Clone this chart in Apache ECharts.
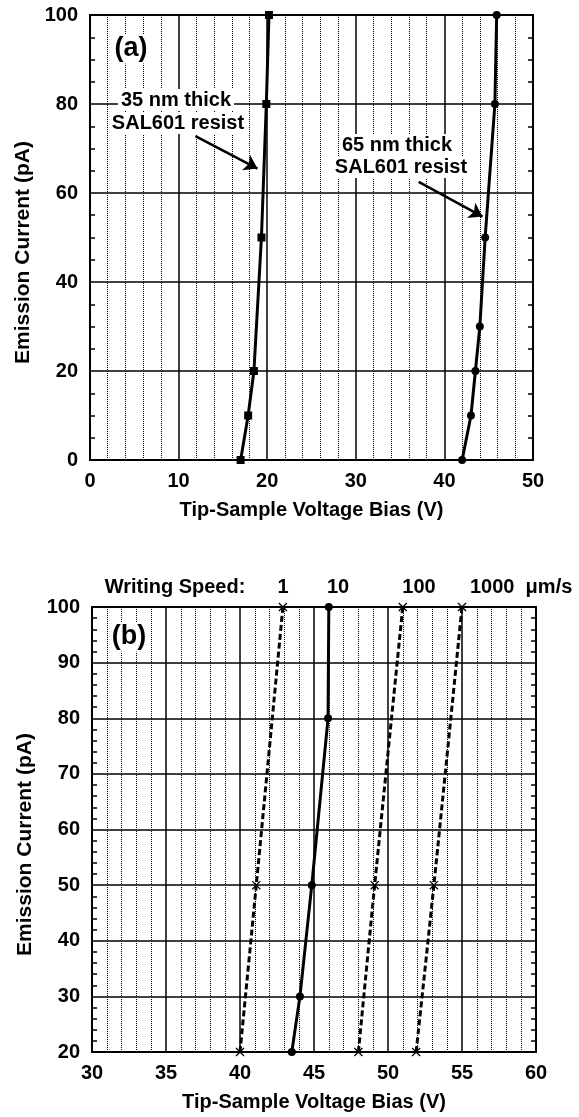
<!DOCTYPE html>
<html>
<head>
<meta charset="utf-8">
<script src="https://cdn.jsdelivr.net/npm/echarts@6/dist/echarts.min.js"></script>
<style>
  html, body { margin: 0; padding: 0; background: #fff; }
  #chart { width: 579px; height: 1117px; }
</style>
</head>
<body>
<div id="chart"></div>
<script>
// (a) emission current vs bias, two resist thicknesses
var cur35 = [0, 10, 20, 50, 80, 100];
var volt35 = [17.0, 17.85, 18.5, 19.35, 19.9, 20.2];
var cur65 = [0, 10, 20, 30, 50, 80, 100];
var volt65 = [42.0, 43.0, 43.5, 44.0, 44.6, 45.7, 45.9];

// (b) emission current vs bias, writing speeds
var curSpeed = [20, 50, 100];
var curSpeed10 = [20, 30, 50, 80, 100];
var voltSpeed1 = [40.0, 41.1, 42.9];
var voltSpeed10 = [43.5, 44.05, 44.85, 45.95, 46.0];
var voltSpeed100 = [48.0, 49.1, 51.0];
var voltSpeed1000 = [51.9, 53.1, 55.0];

var speedLabels = ['1', '10', '100', '1000  \u03bcm/s'];

function pairs(xs, ys) {
    return xs.map(function (x, i) { return [x, ys[i]]; });
}

(function () {
    var myChart = echarts.init(document.getElementById('chart'));
    var font = '"Liberation Sans", Arial, sans-serif';
    var crossPath = 'path://M0,1L1,0L5,4L9,0L10,1L6,5L10,9L9,10L5,6L1,10L0,9L4,5Z';

    function xAxisOf(gridIndex, min, max, interval) {
        return {
            gridIndex: gridIndex,
            type: 'value',
            min: min, max: max, interval: interval,
            name: 'Tip-Sample Voltage Bias (V)',
            nameLocation: 'middle',
            nameGap: 40,
            nameTextStyle: { fontFamily: font, fontWeight: 'bold', fontSize: 20, color: '#000' },
            axisLine: { show: true, lineStyle: { color: '#000', width: 2 } },
            axisTick: { show: false },
            axisLabel: { fontFamily: font, fontWeight: 'bold', fontSize: 20, color: '#000', margin: 11 },
            splitLine: { show: true, lineStyle: { color: '#000', width: 1.5 } },
            minorTick: { show: false, splitNumber: 5 },
            minorSplitLine: { show: true, lineStyle: { color: '#000', width: 1, type: [1, 1] } }
        };
    }

    function yAxisOf(gridIndex, min, max, interval, minorSplit, right) {
        return {
            gridIndex: gridIndex,
            type: 'value',
            position: right ? 'right' : 'left',
            min: min, max: max, interval: interval,
            name: right ? '' : 'Emission Current (pA)',
            nameLocation: 'middle',
            nameGap: 54,
            nameTextStyle: { fontFamily: font, fontWeight: 'bold', fontSize: 21, color: '#000', padding: [0, 30, 0, 0] },
            axisLine: { show: true, lineStyle: { color: '#000', width: 2 } },
            axisTick: { show: false, inside: true },
            axisLabel: { show: !right, fontFamily: font, fontWeight: 'bold', fontSize: 20, color: '#000', margin: 12 },
            splitLine: { show: !right, lineStyle: { color: '#000', width: 1.5 } },
            minorTick: { show: true, splitNumber: minorSplit, length: 5, lineStyle: { color: '#000', width: 1.5 } }
        };
    }

    function txt(x, y, s, size, align, boxed) {
        var style = {
            text: s, fill: '#000', font: 'bold ' + size + 'px ' + font,
            align: align || 'center', verticalAlign: 'middle'
        };
        if (boxed) {
            style.backgroundColor = '#fff';
            style.padding = [1, 3];
        }
        return { type: 'text', x: x, y: y, z: 100, style: style };
    }

    var arrowLine = { color: '#000', width: 2.5, type: 'solid' };

    option = {
        animation: false,
        backgroundColor: '#fff',
        grid: [
            { left: 90, top: 15, width: 443, height: 445, show: true, borderColor: '#000', borderWidth: 2 },
            { left: 92, top: 607, width: 444, height: 445, show: true, borderColor: '#000', borderWidth: 2 }
        ],
        xAxis: [
            xAxisOf(0, 0, 50, 10),
            xAxisOf(1, 30, 60, 5)
        ],
        yAxis: [
            yAxisOf(0, 0, 100, 20, 4, false),
            yAxisOf(0, 0, 100, 20, 4, true),
            yAxisOf(1, 20, 100, 10, 5, false),
            yAxisOf(1, 20, 100, 10, 5, true)
        ],
        graphic: [
            txt(131, 49, '(a)', 27, 'center', true),
            txt(176, 100, '35 nm thick', 20, 'center', true),
            txt(178, 123, 'SAL601 resist', 20, 'center', true),
            txt(397, 145, '65 nm thick', 20, 'center', true),
            txt(401, 167, 'SAL601 resist', 20, 'center', true),
            txt(129, 637, '(b)', 27, 'center', true),
            txt(175, 587, 'Writing Speed:', 20),
            txt(283, 587, speedLabels[0], 20),
            txt(338, 587, speedLabels[1], 20),
            txt(419, 587, speedLabels[2], 20),
            txt(470, 587, speedLabels[3], 20, 'left')
        ],
        series: [
            {
                name: '35 nm', type: 'line', xAxisIndex: 0, yAxisIndex: 0,
                data: pairs(volt35, cur35),
                symbol: 'rect', symbolSize: 8,
                itemStyle: { color: '#000' },
                lineStyle: { color: '#000', width: 3 },
                markLine: {
                    silent: true, symbol: ['none', 'arrow'], symbolSize: 13,
                    label: { show: false }, lineStyle: arrowLine,
                    data: [[{ coord: [11.9, 72.8] }, { coord: [18.9, 65.5] }]]
                }
            },
            {
                name: '65 nm', type: 'line', xAxisIndex: 0, yAxisIndex: 0,
                data: pairs(volt65, cur65),
                symbol: 'circle', symbolSize: 8,
                itemStyle: { color: '#000' },
                lineStyle: { color: '#000', width: 3 },
                markLine: {
                    silent: true, symbol: ['none', 'arrow'], symbolSize: 13,
                    label: { show: false }, lineStyle: arrowLine,
                    data: [[{ coord: [37.1, 62.5] }, { coord: [44.3, 54.7] }]]
                }
            },
            {
                name: '1 um/s', type: 'line', xAxisIndex: 1, yAxisIndex: 2,
                data: pairs(voltSpeed1, curSpeed), smooth: 0.3,
                symbol: crossPath, symbolSize: 9,
                itemStyle: { color: '#000' },
                lineStyle: { color: '#000', width: 3, type: [6, 3] }
            },
            {
                name: '10 um/s', type: 'line', xAxisIndex: 1, yAxisIndex: 2,
                data: pairs(voltSpeed10, curSpeed10),
                symbol: 'circle', symbolSize: 8,
                itemStyle: { color: '#000' },
                lineStyle: { color: '#000', width: 3 }
            },
            {
                name: '100 um/s', type: 'line', xAxisIndex: 1, yAxisIndex: 2,
                data: pairs(voltSpeed100, curSpeed), smooth: 0.3,
                symbol: crossPath, symbolSize: 9,
                itemStyle: { color: '#000' },
                lineStyle: { color: '#000', width: 3, type: [6, 3] }
            },
            {
                name: '1000 um/s', type: 'line', xAxisIndex: 1, yAxisIndex: 2,
                data: pairs(voltSpeed1000, curSpeed), smooth: 0.3,
                symbol: crossPath, symbolSize: 9,
                itemStyle: { color: '#000' },
                lineStyle: { color: '#000', width: 3, type: [6, 3] }
            }
        ]
    };

    myChart.setOption(option);
})();
</script>
</body>
</html>
